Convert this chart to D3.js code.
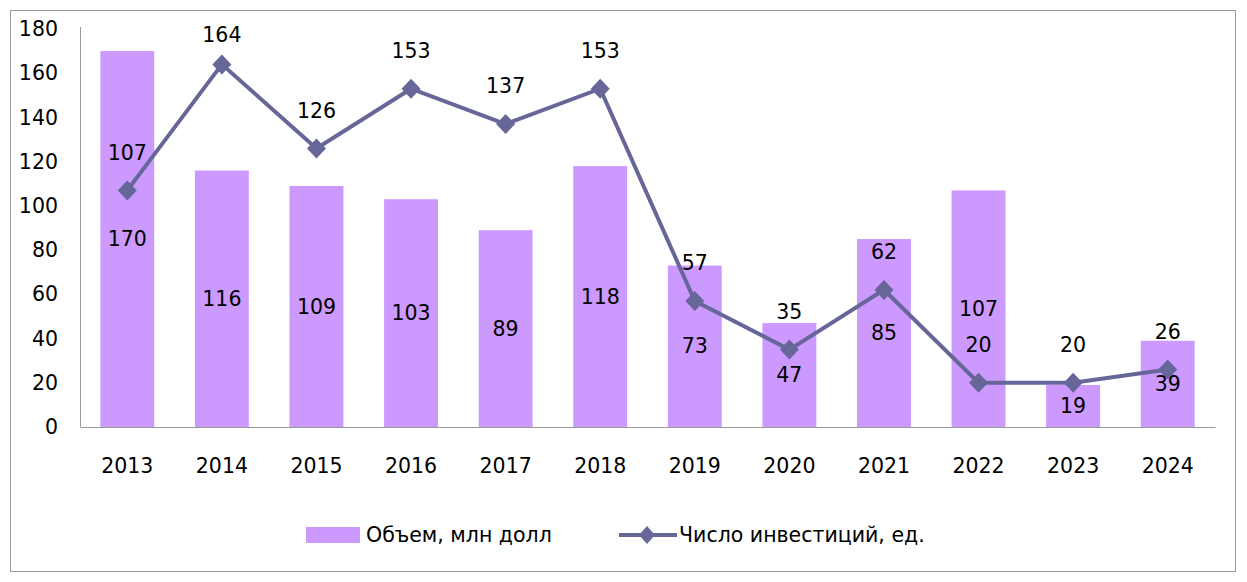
<!DOCTYPE html>
<html lang="ru">
<head>
    <meta charset="utf-8">
    <script src="https://d3js.org/d3.v7.min.js"></script>
    <style>
        body { margin: 0; background: #fff; }
        text { font-family: "DejaVu Sans", sans-serif; fill: #000; }
        .axis path, .axis line { stroke: #999; }
        .bar { fill: #cc99ff; }
    </style>
</head>
<body>
<div id="canvas"></div>
<script>
    var years = ["2013", "2014", "2015", "2016", "2017", "2018", "2019", "2020", "2021", "2022", "2023", "2024"];
    var volume = [170, 116, 109, 103, 89, 118, 73, 47, 85, 107, 19, 39];
    var counts = [107, 164, 126, 153, 137, 153, 57, 35, 62, 20, 20, 26];
    var yTicks = [0, 20, 40, 60, 80, 100, 120, 140, 160, 180];

    var W = 1247, H = 582;
    var FS = "20.5px";
    var svg = d3.select("#canvas").append("svg")
        .attr("width", W)
        .attr("height", H);

    // outer frame
    svg.append("rect")
        .attr("x", 10.5).attr("y", 10.5)
        .attr("width", 1225).attr("height", 561)
        .attr("fill", "none").attr("stroke", "#999");

    var margin = { top: 29, right: 32, bottom: 155, left: 80 };
    var width = W - margin.left - margin.right;
    var height = H - margin.top - margin.bottom;

    var x = d3.scaleBand().domain(years).range([0, width]).paddingInner(0.43).paddingOuter(0.215);
    var y = d3.scaleLinear().domain([0, 180]).range([height, 0]);

    var g = svg.append("g")
        .attr("transform", "translate(" + margin.left + "," + margin.top + ")");

    var yAxis = g.append("g")
        .attr("class", "axis axis--y")
        .call(d3.axisLeft(y).tickValues(yTicks).tickSize(0).tickPadding(22));
    yAxis.select(".domain").attr("d", "M0.5,-2V" + height);
    yAxis.selectAll("text").style("font-size", FS);

    var xAxis = g.append("g")
        .attr("class", "axis axis--x")
        .attr("transform", "translate(0," + height + ")")
        .call(d3.axisBottom(x).tickSize(0).tickPadding(31));
    xAxis.selectAll("text").style("font-size", FS);

    var data = years.map(function (d, i) { return { year: d, vol: volume[i], n: counts[i] }; });

    g.selectAll(".bar")
        .data(data)
        .enter().append("rect")
        .attr("class", "bar")
        .attr("x", function (d) { return x(d.year); })
        .attr("y", function (d) { return y(d.vol); })
        .attr("width", x.bandwidth())
        .attr("height", function (d) { return height - y(d.vol); });

    var cx = function (d) { return x(d.year) + x.bandwidth() / 2; };

    g.append("path")
        .datum(data)
        .attr("fill", "none")
        .attr("stroke", "#666699")
        .attr("stroke-width", 4)
        .attr("d", d3.line().x(cx).y(function (d) { return y(d.n); }));

    g.selectAll(".marker")
        .data(data)
        .enter().append("path")
        .attr("class", "marker")
        .attr("fill", "#666699")
        .attr("transform", function (d) { return "translate(" + cx(d) + "," + y(d.n) + ")"; })
        .attr("d", "M0,-10L9.5,0L0,10L-9.5,0Z");

    // bar value labels, centered in the bar
    g.selectAll(".vlabel")
        .data(data)
        .enter().append("text")
        .attr("class", "vlabel")
        .attr("x", cx)
        .attr("y", function (d) { return (y(d.vol) + height) / 2; })
        .attr("dy", "0.35em")
        .attr("text-anchor", "middle")
        .style("font-size", FS)
        .text(function (d) { return d.vol; });

    // line value labels, above markers
    g.selectAll(".nlabel")
        .data(data)
        .enter().append("text")
        .attr("class", "nlabel")
        .attr("x", cx)
        .attr("y", function (d) { return Math.max(y(d.n) - 38, 6); })
        .attr("dy", "0.35em")
        .attr("text-anchor", "middle")
        .style("font-size", FS)
        .text(function (d) { return d.n; });

    // legend
    var leg = svg.append("g").attr("transform", "translate(306,535)");
    leg.append("rect").attr("x", 0).attr("y", -8).attr("width", 54).attr("height", 16).attr("fill", "#cc99ff");
    leg.append("text").attr("x", 60).attr("y", 0).attr("dy", "0.35em").style("font-size", FS).text("Объем, млн долл");
    leg.append("line").attr("x1", 313).attr("x2", 371).attr("y1", 0).attr("y2", 0)
        .attr("stroke", "#666699").attr("stroke-width", 4);
    leg.append("path").attr("transform", "translate(341,0)").attr("d", "M0,-9L8,0L0,9L-8,0Z").attr("fill", "#666699");
    leg.append("text").attr("x", 373).attr("y", 0).attr("dy", "0.35em").style("font-size", FS).text("Число инвестиций, ед.");
</script>
</body>
</html>
